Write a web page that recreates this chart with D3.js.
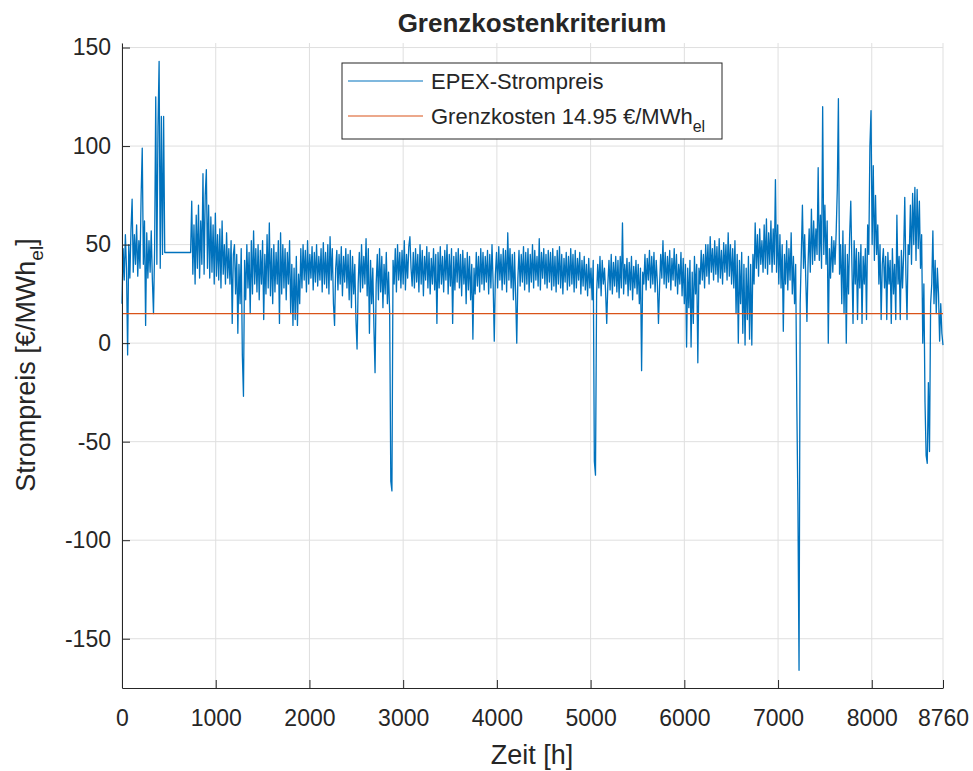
<!DOCTYPE html>
<html><head><meta charset="utf-8">
<script src="https://cdn.jsdelivr.net/npm/d3@7/dist/d3.min.js"></script>
<style>
body{margin:0;background:#fff}
text{font-family:"Liberation Sans",Arial,Helvetica,sans-serif;fill:#262626}
</style>
</head><body>
<svg id="chart" width="973" height="771"></svg>
<script>
const titleText = "Grenzkostenkriterium";
const xTicks = [0,1000,2000,3000,4000,5000,6000,7000,8000,8760];
const yTicks = [-150,-100,-50,0,50,100,150];
const xDomain = [0, 8760];
const yDomain = [-175, 152.3];
const grenzkosten = 14.95;
const stepHours = 12;
// EPEX price, one value every 12 h
const price = [
20,48,32,55,38,-6,50,33,58,73,36,55,40,60,34,52,38,75,99,40,
62,9,56,33,52,36,57,32,15,48,125,40,110,143,38,115,45,115,46,46,
46,46,46,46,46,46,46,46,46,46,46,46,46,46,46,46,46,46,46,46,
46,46,72,35,60,30,65,38,70,33,62,40,86,35,75,88,38,70,33,64,
36,60,30,66,34,55,32,58,28,62,35,50,30,56,33,48,30,52,10,45,
50,25,45,5,40,20,48,-6,-27,42,22,50,28,46,15,52,25,57,30,48,
26,50,22,47,30,52,12,45,25,55,28,61,24,48,20,50,26,46,30,52,
10,56,25,50,28,48,22,46,30,52,15,40,9,38,12,44,9,35,20,48,
28,50,32,47,26,52,30,45,33,49,27,46,31,50,29,44,32,48,26,51,
30,46,28,50,25,54,32,48,20,9,38,47,27,45,30,49,24,44,31,48,
28,45,22,47,18,44,25,40,12,-3,30,46,26,50,28,44,30,53,24,48,
5,42,20,38,8,-15,30,45,22,48,26,44,18,40,25,46,20,36,15,-70,
-75,42,30,48,26,50,32,46,28,47,30,52,27,45,33,49,54,38,29,46,
28,48,31,45,26,50,30,47,24,44,32,49,28,46,25,43,30,48,27,45,
10,46,28,49,30,44,26,47,32,50,25,45,29,48,10,44,27,46,31,48,
28,45,24,47,30,43,20,46,27,44,22,40,2,38,25,46,29,44,26,48,
30,46,27,44,31,47,25,45,28,50,30,1,35,46,28,49,32,45,27,48,
30,47,26,56,32,48,28,45,22,46,25,0,33,47,29,45,31,49,27,46,
30,48,26,45,31,50,28,47,32,44,29,53,27,46,33,48,30,45,28,47,
31,46,27,48,29,44,26,47,30,49,28,45,25,43,31,46,27,44,29,48,
30,45,26,47,28,43,32,46,25,42,29,44,27,40,24,43,28,38,22,42,
-60,-67,25,40,28,44,24,42,30,38,26,10,30,42,27,45,25,41,29,44,
26,42,23,44,28,61,25,40,30,43,24,41,27,44,22,39,28,42,25,40,
20,38,-14,36,30,45,27,43,32,47,28,44,30,46,26,42,31,10,29,45,
33,52,30,46,28,44,31,47,27,43,32,48,29,45,25,40,30,46,24,43,
20,40,-2,38,18,42,-2,36,10,44,25,40,-10,38,30,47,32,45,28,50,
34,50,30,54,36,48,32,52,35,49,31,53,33,47,30,51,36,50,32,56,
34,50,30,48,28,52,15,45,0,42,20,46,5,40,-1,38,12,44,2,40,
-1,45,30,61,38,55,34,58,40,52,36,60,38,63,35,56,40,62,36,58,
40,83,36,60,30,55,28,50,6,45,30,52,27,48,32,56,25,44,20,40,
-30,-82,-166,20,45,70,38,55,32,11,40,58,36,68,40,62,42,58,45,89,
42,65,38,120,45,70,40,62,0,48,33,54,36,52,40,56,78,124,35,50,
20,57,15,50,0,45,25,55,72,40,10,52,30,48,12,46,28,50,10,44,
30,48,12,60,45,100,118,50,90,42,75,45,60,30,50,12,40,48,28,44,
12,46,30,42,10,48,25,40,12,65,30,44,12,47,28,45,74,35,12,50,
45,70,40,76,50,79,42,78,48,72,38,55,0,30,-30,-57,-61,-20,-55,20,
30,57,20,42,15,38,25,1,20,5,-1
];
const seriesNames = ["EPEX-Strompreis", "Grenzkosten 14.95 €/MWh"];
const colors = ["#0072BD", "#D95319"];

const svg = d3.select("#chart");
const L = 122, R = 943, T = 43, B = 688;
const x = d3.scaleLinear().domain(xDomain).range([L, R]);
const y = d3.scaleLinear().domain(yDomain).range([B, T]);

// grid
const grid = svg.append("g");
grid.selectAll(".gx").data(xTicks).join("line")
  .attr("x1", d => x(d)).attr("x2", d => x(d)).attr("y1", T).attr("y2", B)
  .attr("stroke", "#dfdfdf").attr("stroke-width", 1);
grid.selectAll(".gy").data(yTicks).join("line")
  .attr("x1", L).attr("x2", R).attr("y1", d => y(d)).attr("y2", d => y(d))
  .attr("stroke", "#dfdfdf").attr("stroke-width", 1);

// series
const line = d3.line().x((d, i) => x(i * stepHours)).y(d => y(d));
svg.append("path").datum(price).attr("d", line)
  .attr("fill", "none").attr("stroke", colors[0]).attr("stroke-width", 1.3)
  .attr("stroke-linejoin", "round");
svg.append("line").attr("x1", x(xDomain[0])).attr("x2", x(xDomain[1]))
  .attr("y1", y(grenzkosten)).attr("y2", y(grenzkosten))
  .attr("stroke", colors[1]).attr("stroke-width", 1.2);

// axes
const fmt = d => String(d);
const xAxis = d3.axisBottom(x).tickValues(xTicks).tickFormat(fmt)
  .tickSizeInner(-8).tickSizeOuter(0).tickPadding(22);
const gx = svg.append("g").attr("transform", `translate(0,${B})`).call(xAxis);
const yAxis = d3.axisLeft(y).tickValues(yTicks).tickFormat(fmt)
  .tickSizeInner(-8).tickSizeOuter(0).tickPadding(11);
const gy = svg.append("g").attr("transform", `translate(${L},0)`).call(yAxis);
[gx, gy].forEach(g => {
  g.select(".domain").attr("stroke", "#262626").attr("stroke-width", 1);
  g.selectAll(".tick line").attr("stroke", "#262626");
  g.selectAll(".tick text").attr("fill", "#262626").style("font-size", "23px")
    .style("font-family", "'Liberation Sans', Arial, sans-serif");
});

// title and labels
svg.append("text").attr("x", 532).attr("y", 32).attr("text-anchor", "middle")
  .style("font-size", "26px").style("font-weight", "bold").text(titleText);
svg.append("text").attr("x", 532).attr("y", 764).attr("text-anchor", "middle")
  .style("font-size", "27px").text("Zeit [h]");
const yl = svg.append("text").attr("transform", "translate(35,365) rotate(-90)")
  .attr("text-anchor", "middle").style("font-size", "27px");
yl.append("tspan").text("Strompreis [€/MWh");
yl.append("tspan").attr("dy", 8).style("font-size", "19px").text("el");
yl.append("tspan").attr("dy", -8).text("]");

// legend
const lg = svg.append("g");
lg.append("rect").attr("x", 342).attr("y", 63).attr("width", 380).attr("height", 76)
  .attr("fill", "#fff").attr("stroke", "#262626").attr("stroke-width", 1);
const rowsY = [81, 116];
seriesNames.forEach((name, i) => {
  lg.append("line").attr("x1", 348).attr("x2", 423).attr("y1", rowsY[i]).attr("y2", rowsY[i])
    .attr("stroke", colors[i]).attr("stroke-width", 1.2);
  const t = lg.append("text").attr("x", 431).attr("y", rowsY[i] + 8).style("font-size", "22px");
  t.append("tspan").text(name);
  if (i === 1) t.append("tspan").attr("dy", 8).style("font-size", "16px").text("el");
});
</script>
</body></html>
